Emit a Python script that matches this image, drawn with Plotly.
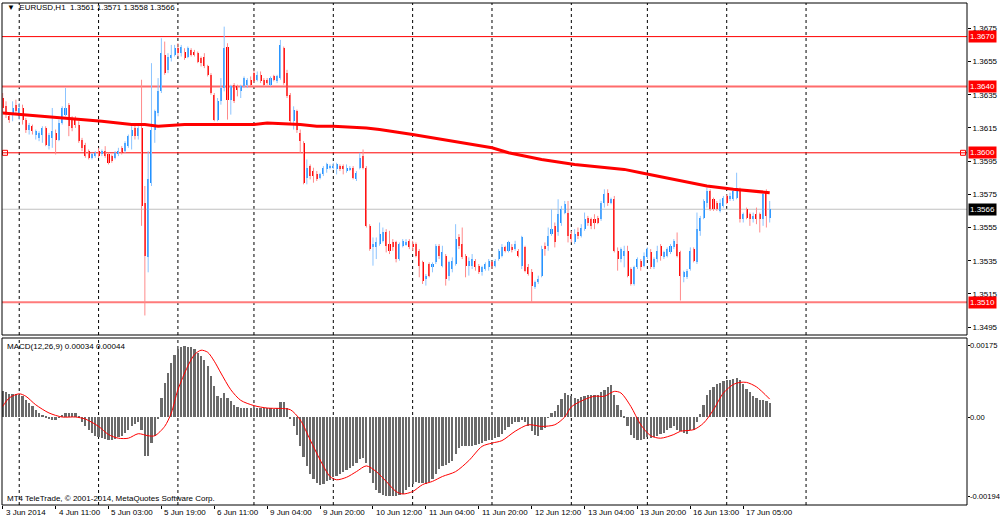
import plotly.graph_objects as go

# EURUSD H1, one bar per hour from 3 Jun 2014 19:00 to 17 Jun 2014 12:00 (x = bar number)
open_ = [1.3633, 1.3628, 1.3622, 1.3624, 1.3629, 1.3622, 1.3627, 1.3620, 1.3614, 1.3616,
         1.3611, 1.3609, 1.3611, 1.3615, 1.3604, 1.3609, 1.3612, 1.3608, 1.3618, 1.3623,
         1.3629, 1.3620, 1.3621, 1.3617, 1.3608, 1.3605, 1.3601, 1.3597, 1.3598, 1.3601,
         1.3599, 1.3601, 1.3599, 1.3598, 1.3597, 1.3599, 1.3603, 1.3601, 1.3604, 1.3610,
         1.3615, 1.3610, 1.3615, 1.3570, 1.3537, 1.3582, 1.3614, 1.3624, 1.3637, 1.3659,
         1.3650, 1.3657, 1.3659, 1.3663, 1.3660, 1.3661, 1.3658, 1.3662, 1.3661, 1.3660,
         1.3657, 1.3658, 1.3652, 1.3647, 1.3635, 1.3620, 1.3631, 1.3639, 1.3664, 1.3632,
         1.3641, 1.3640, 1.3637, 1.3640, 1.3641, 1.3644, 1.3648, 1.3644, 1.3647, 1.3644,
         1.3644, 1.3641, 1.3646, 1.3643, 1.3645, 1.3663, 1.3648, 1.3635, 1.3619, 1.3625,
         1.3612, 1.3606, 1.3585, 1.3592, 1.3589, 1.3587, 1.3585, 1.3587, 1.3590, 1.3591,
         1.3591, 1.3590, 1.3592, 1.3592, 1.3589, 1.3590, 1.3591, 1.3584, 1.3591, 1.3598,
         1.3591, 1.3556, 1.3543, 1.3543, 1.3545, 1.3547, 1.3552, 1.3545, 1.3546, 1.3546,
         1.3536, 1.3544, 1.3545, 1.3547, 1.3545, 1.3545, 1.3541, 1.3534, 1.3524, 1.3533,
         1.3531, 1.3534, 1.3544, 1.3532, 1.3538, 1.3526, 1.3530, 1.3533, 1.3549, 1.3545,
         1.3538, 1.3532, 1.3532, 1.3535, 1.3532, 1.3528, 1.3530, 1.3531, 1.3534, 1.3532,
         1.3536, 1.3538, 1.3543, 1.3541, 1.3543, 1.3542, 1.3541, 1.3532, 1.3543, 1.3531,
         1.3528, 1.3519, 1.3522, 1.3526, 1.3544, 1.3544, 1.3551, 1.3556, 1.3552, 1.3558,
         1.3564, 1.3564, 1.3551, 1.3546, 1.3552, 1.3550, 1.3554, 1.3561, 1.3560, 1.3560,
         1.3561, 1.3560, 1.3570, 1.3576, 1.3570, 1.3572, 1.3541, 1.3536, 1.3538, 1.3541,
         1.3530, 1.3521, 1.3531, 1.3535, 1.3532, 1.3537, 1.3540, 1.3531, 1.3536, 1.3544,
         1.3537, 1.3538, 1.3540, 1.3543, 1.3545, 1.3540, 1.3525, 1.3525, 1.3530, 1.3542,
         1.3534, 1.3553, 1.3561, 1.3570, 1.3577, 1.3572, 1.3570, 1.3565, 1.3568, 1.3574,
         1.3572, 1.3572, 1.3573, 1.3578, 1.3560, 1.3566, 1.3563, 1.3560, 1.3563, 1.3563,
         1.3560, 1.3576, 1.3561]
high = [1.3636, 1.3631, 1.3624, 1.3631, 1.3632, 1.3630, 1.3629, 1.3621, 1.3618, 1.3617,
        1.3614, 1.3613, 1.3616, 1.3616, 1.3612, 1.3627, 1.3614, 1.3620, 1.3628, 1.3639,
        1.3630, 1.3622, 1.3622, 1.3619, 1.3609, 1.3606, 1.3602, 1.3600, 1.3601, 1.3603,
        1.3602, 1.3604, 1.3600, 1.3599, 1.3601, 1.3603, 1.3604, 1.3607, 1.3611, 1.3616,
        1.3617, 1.3616, 1.3644, 1.3580, 1.3601, 1.3654, 1.3626, 1.3645, 1.3669, 1.3667,
        1.3660, 1.3665, 1.3665, 1.3666, 1.3665, 1.3663, 1.3664, 1.3663, 1.3662, 1.3661,
        1.3658, 1.3660, 1.3653, 1.3648, 1.3636, 1.3633, 1.3645, 1.3676, 1.3666, 1.3641,
        1.3642, 1.3641, 1.3641, 1.3646, 1.3645, 1.3646, 1.3650, 1.3649, 1.3649, 1.3645,
        1.3645, 1.3646, 1.3647, 1.3647, 1.3668, 1.3664, 1.3650, 1.3636, 1.3628, 1.3626,
        1.3614, 1.3607, 1.3596, 1.3593, 1.3591, 1.3589, 1.3588, 1.3592, 1.3594, 1.3593,
        1.3594, 1.3594, 1.3593, 1.3593, 1.3593, 1.3592, 1.3592, 1.3589, 1.3600, 1.3602,
        1.3592, 1.3557, 1.3549, 1.3549, 1.3558, 1.3555, 1.3554, 1.3553, 1.3548, 1.3547,
        1.3546, 1.3548, 1.3548, 1.3548, 1.3547, 1.3546, 1.3542, 1.3535, 1.3527, 1.3534,
        1.3534, 1.3545, 1.3545, 1.3544, 1.3539, 1.3535, 1.3537, 1.3557, 1.3551, 1.3555,
        1.3539, 1.3537, 1.3539, 1.3536, 1.3533, 1.3532, 1.3534, 1.3536, 1.3535, 1.3536,
        1.3542, 1.3545, 1.3544, 1.3547, 1.3545, 1.3547, 1.3542, 1.3550, 1.3544, 1.3533,
        1.3530, 1.3523, 1.3526, 1.3544, 1.3546, 1.3555, 1.3566, 1.3558, 1.3572, 1.3568,
        1.3571, 1.3571, 1.3553, 1.3554, 1.3555, 1.3557, 1.3564, 1.3562, 1.3561, 1.3563,
        1.3562, 1.3571, 1.3578, 1.3578, 1.3573, 1.3574, 1.3543, 1.3543, 1.3544, 1.3544,
        1.3531, 1.3532, 1.3537, 1.3536, 1.3540, 1.3543, 1.3542, 1.3537, 1.3544, 1.3545,
        1.3541, 1.3543, 1.3545, 1.3548, 1.3552, 1.3541, 1.3529, 1.3530, 1.3543, 1.3543,
        1.3564, 1.3562, 1.3572, 1.3579, 1.3578, 1.3573, 1.3571, 1.3572, 1.3574, 1.3575,
        1.3576, 1.3578, 1.3588, 1.3579, 1.3564, 1.3567, 1.3564, 1.3564, 1.3567, 1.3564,
        1.3577, 1.3578, 1.3571]
low = [1.3624, 1.3621, 1.3618, 1.3619, 1.3623, 1.3620, 1.3617, 1.3612, 1.3611, 1.3611,
       1.3608, 1.3607, 1.3606, 1.3604, 1.3602, 1.3603, 1.3599, 1.3607, 1.3617, 1.3622,
       1.3610, 1.3613, 1.3615, 1.3606, 1.3601, 1.3597, 1.3596, 1.3596, 1.3597, 1.3597,
       1.3598, 1.3597, 1.3593, 1.3594, 1.3596, 1.3598, 1.3599, 1.3600, 1.3603, 1.3602,
       1.3608, 1.3608, 1.3556, 1.3502, 1.3528, 1.3580, 1.3606, 1.3622, 1.3636, 1.3647,
       1.3648, 1.3655, 1.3658, 1.3658, 1.3658, 1.3656, 1.3657, 1.3658, 1.3658, 1.3654,
       1.3652, 1.3651, 1.3646, 1.3635, 1.3619, 1.3619, 1.3629, 1.3637, 1.3620, 1.3623,
       1.3630, 1.3634, 1.3633, 1.3639, 1.3639, 1.3640, 1.3642, 1.3643, 1.3642, 1.3640,
       1.3641, 1.3640, 1.3643, 1.3642, 1.3644, 1.3641, 1.3633, 1.3618, 1.3614, 1.3612,
       1.3600, 1.3581, 1.3581, 1.3584, 1.3582, 1.3583, 1.3584, 1.3586, 1.3588, 1.3590,
       1.3590, 1.3587, 1.3589, 1.3587, 1.3588, 1.3589, 1.3584, 1.3583, 1.3590, 1.3590,
       1.3555, 1.3541, 1.3532, 1.3536, 1.3544, 1.3546, 1.3540, 1.3539, 1.3541, 1.3534,
       1.3535, 1.3543, 1.3544, 1.3542, 1.3541, 1.3537, 1.3525, 1.3521, 1.3520, 1.3525,
       1.3528, 1.3533, 1.3536, 1.3531, 1.3520, 1.3523, 1.3528, 1.3532, 1.3542, 1.3536,
       1.3525, 1.3526, 1.3530, 1.3529, 1.3527, 1.3526, 1.3529, 1.3529, 1.3530, 1.3531,
       1.3535, 1.3537, 1.3540, 1.3540, 1.3540, 1.3541, 1.3537, 1.3530, 1.3528, 1.3526,
       1.3510, 1.3518, 1.3521, 1.3525, 1.3538, 1.3541, 1.3550, 1.3543, 1.3550, 1.3556,
       1.3563, 1.3546, 1.3546, 1.3545, 1.3548, 1.3549, 1.3553, 1.3556, 1.3554, 1.3554,
       1.3557, 1.3559, 1.3567, 1.3568, 1.3569, 1.3540, 1.3529, 1.3534, 1.3531, 1.3525,
       1.3520, 1.3520, 1.3530, 1.3529, 1.3531, 1.3536, 1.3530, 1.3530, 1.3534, 1.3535,
       1.3536, 1.3537, 1.3539, 1.3542, 1.3537, 1.3511, 1.3522, 1.3524, 1.3529, 1.3534,
       1.3533, 1.3550, 1.3560, 1.3567, 1.3565, 1.3565, 1.3565, 1.3564, 1.3567, 1.3569,
       1.3571, 1.3571, 1.3572, 1.3558, 1.3558, 1.3560, 1.3556, 1.3558, 1.3557, 1.3552,
       1.3556, 1.3555, 1.3558]
close = [1.3627, 1.3624, 1.3620, 1.3627, 1.3625, 1.3627, 1.3620, 1.3614, 1.3617, 1.3613,
         1.3613, 1.3612, 1.3615, 1.3605, 1.3611, 1.3613, 1.3608, 1.3618, 1.3627, 1.3627,
         1.3616, 1.3615, 1.3617, 1.3607, 1.3603, 1.3598, 1.3597, 1.3599, 1.3600, 1.3598,
         1.3601, 1.3598, 1.3594, 1.3595, 1.3600, 1.3601, 1.3600, 1.3606, 1.3610, 1.3614,
         1.3610, 1.3615, 1.3568, 1.3538, 1.3584, 1.3614, 1.3625, 1.3637, 1.3660, 1.3648,
         1.3658, 1.3659, 1.3663, 1.3660, 1.3664, 1.3657, 1.3663, 1.3659, 1.3659, 1.3655,
         1.3654, 1.3652, 1.3647, 1.3636, 1.3620, 1.3631, 1.3639, 1.3663, 1.3632, 1.3640,
         1.3631, 1.3638, 1.3640, 1.3645, 1.3644, 1.3641, 1.3643, 1.3647, 1.3643, 1.3641,
         1.3642, 1.3645, 1.3644, 1.3646, 1.3665, 1.3642, 1.3634, 1.3619, 1.3626, 1.3614,
         1.3607, 1.3582, 1.3591, 1.3586, 1.3586, 1.3584, 1.3587, 1.3591, 1.3593, 1.3592,
         1.3592, 1.3593, 1.3590, 1.3590, 1.3591, 1.3591, 1.3585, 1.3588, 1.3597, 1.3591,
         1.3556, 1.3542, 1.3545, 1.3546, 1.3551, 1.3552, 1.3544, 1.3541, 1.3543, 1.3536,
         1.3545, 1.3547, 1.3546, 1.3543, 1.3543, 1.3538, 1.3532, 1.3523, 1.3526, 1.3526,
         1.3533, 1.3544, 1.3538, 1.3540, 1.3524, 1.3534, 1.3535, 1.3548, 1.3544, 1.3537,
         1.3532, 1.3535, 1.3536, 1.3531, 1.3528, 1.3531, 1.3533, 1.3535, 1.3532, 1.3535,
         1.3541, 1.3543, 1.3541, 1.3546, 1.3542, 1.3545, 1.3538, 1.3549, 1.3529, 1.3527,
         1.3520, 1.3522, 1.3524, 1.3542, 1.3542, 1.3550, 1.3554, 1.3546, 1.3563, 1.3566,
         1.3569, 1.3550, 1.3548, 1.3551, 1.3550, 1.3555, 1.3560, 1.3558, 1.3556, 1.3558,
         1.3558, 1.3570, 1.3575, 1.3570, 1.3572, 1.3541, 1.3536, 1.3542, 1.3541, 1.3526,
         1.3521, 1.3531, 1.3536, 1.3531, 1.3538, 1.3542, 1.3531, 1.3536, 1.3541, 1.3538,
         1.3540, 1.3542, 1.3544, 1.3547, 1.3538, 1.3526, 1.3528, 1.3529, 1.3541, 1.3535,
         1.3554, 1.3561, 1.3571, 1.3577, 1.3566, 1.3566, 1.3566, 1.3570, 1.3573, 1.3570,
         1.3574, 1.3577, 1.3579, 1.3560, 1.3563, 1.3561, 1.3560, 1.3562, 1.3560, 1.3560,
         1.3575, 1.3562, 1.3566]

# moving average read at a few bars
ma_idx = [0, 6, 12, 18, 24, 30, 39, 43, 47, 55, 64, 76, 80, 90, 95, 100, 110, 114, 124, 133,
          143, 148, 153, 163, 173, 183, 188, 193, 203, 213, 221, 232]
ma_val = [1.3624, 1.3623, 1.3622, 1.3621, 1.3620, 1.3619, 1.3617, 1.3617, 1.3616, 1.3617,
          1.3617, 1.3617, 1.3618, 1.3617, 1.3616, 1.3616, 1.3615, 1.3614, 1.3611, 1.3608,
          1.3605, 1.3603, 1.3600, 1.3596, 1.3593, 1.3591, 1.3590, 1.3588, 1.3584, 1.3580,
          1.3578, 1.3576]

# MACD(12,26,9) main histogram, one value per bar
macd_hist = [0.00065, 0.00062, 0.00057, 0.00057, 0.00057, 0.00053, 0.00051, 0.00041, 0.00034, 0.00026,
             0.00018, 0.00010, 0.00006, 0.00001, -0.00003, -0.00007, -0.00007, -0.00002, 0.00005, 0.00011,
             0.00011, 0.00011, 0.00010, 0.00003, -0.00011, -0.00023, -0.00031, -0.00039, -0.00046, -0.00049,
             -0.00052, -0.00053, -0.00056, -0.00057, -0.00054, -0.00049, -0.00046, -0.00038, -0.00031, -0.00023,
             -0.00017, -0.00013, -0.00031, -0.00095, -0.00095, -0.00064, -0.00046, -0.00005, 0.00047, 0.00084,
             0.00108, 0.00133, 0.00153, 0.00167, 0.00171, 0.00175, 0.00172, 0.00171, 0.00166, 0.00157,
             0.00149, 0.00139, 0.00125, 0.00100, 0.00075, 0.00051, 0.00047, 0.00059, 0.00047, 0.00039,
             0.00030, 0.00024, 0.00021, 0.00021, 0.00021, 0.00021, 0.00021, 0.00023, 0.00022, 0.00021,
             0.00021, 0.00021, 0.00020, 0.00021, 0.00036, 0.00036, 0.00021, -0.00005, -0.00023, -0.00043,
             -0.00072, -0.00097, -0.00121, -0.00139, -0.00152, -0.00162, -0.00166, -0.00164, -0.00158, -0.00154,
             -0.00148, -0.00144, -0.00139, -0.00136, -0.00130, -0.00125, -0.00121, -0.00113, -0.00103, -0.00101,
             -0.00113, -0.00138, -0.00162, -0.00179, -0.00187, -0.00191, -0.00193, -0.00194, -0.00194, -0.00193,
             -0.00192, -0.00189, -0.00180, -0.00172, -0.00164, -0.00159, -0.00161, -0.00162, -0.00164, -0.00159,
             -0.00151, -0.00139, -0.00128, -0.00121, -0.00117, -0.00113, -0.00107, -0.00090, -0.00077, -0.00072,
             -0.00071, -0.00071, -0.00070, -0.00068, -0.00067, -0.00064, -0.00060, -0.00057, -0.00056, -0.00052,
             -0.00048, -0.00041, -0.00033, -0.00025, -0.00016, -0.00013, -0.00011, -0.00007, -0.00011, -0.00023,
             -0.00035, -0.00043, -0.00046, -0.00031, -0.00027, -0.00002, 0.00011, 0.00016, 0.00030, 0.00045,
             0.00059, 0.00055, 0.00051, 0.00047, 0.00045, 0.00048, 0.00051, 0.00053, 0.00054, 0.00054,
             0.00055, 0.00061, 0.00067, 0.00074, 0.00078, 0.00055, 0.00030, 0.00018, 0.00003, -0.00021,
             -0.00043, -0.00052, -0.00056, -0.00057, -0.00054, -0.00048, -0.00052, -0.00049, -0.00046, -0.00042,
             -0.00038, -0.00033, -0.00027, -0.00023, -0.00031, -0.00035, -0.00039, -0.00041, -0.00033, -0.00031,
             -0.00013, 0.00008, 0.00030, 0.00055, 0.00067, 0.00073, 0.00080, 0.00084, 0.00088, 0.00090,
             0.00092, 0.00093, 0.00096, 0.00090, 0.00080, 0.00069, 0.00061, 0.00052, 0.00047, 0.00043,
             0.00043, 0.00039, 0.00034]

# MACD signal line read at a few bars
sig_idx = [0, 2, 5, 7, 10, 14, 18, 22, 25, 29, 32, 35, 38, 41, 44, 46, 49, 51, 53, 56,
           58, 60, 62, 64, 66, 69, 72, 76, 80, 84, 87, 90, 93, 96, 99, 101, 104, 107, 110, 113,
           116, 119, 121, 124, 127, 130, 133, 137, 141, 145, 148, 151, 155, 159, 163, 167, 170, 172, 176, 179,
           182, 185, 187, 190, 193, 196, 199, 203, 205, 209, 212, 215, 218, 221, 223, 225, 228, 232]
sig_val = [0.00026, 0.00047, 0.00057, 0.00051, 0.00030, 0.00010, 0.00000, 0.00000, -0.00005, -0.00023,
           -0.00043, -0.00052, -0.00052, -0.00041, -0.00046, -0.00046, -0.00023, 0.00010, 0.00067, 0.00125,
           0.00153, 0.00164, 0.00159, 0.00137, 0.00108, 0.00067, 0.00041, 0.00028, 0.00022, 0.00021,
           0.00018, -0.00007, -0.00056, -0.00105, -0.00146, -0.00154, -0.00148, -0.00134, -0.00120, -0.00134,
           -0.00158, -0.00183, -0.00189, -0.00183, -0.00166, -0.00158, -0.00146, -0.00134, -0.00107, -0.00072,
           -0.00064, -0.00058, -0.00035, -0.00019, -0.00023, -0.00019, 0.00000, 0.00025, 0.00043, 0.00051,
           0.00051, 0.00063, 0.00059, 0.00026, -0.00019, -0.00046, -0.00052, -0.00043, -0.00035, -0.00031,
           -0.00015, 0.00018, 0.00059, 0.00080, 0.00085, 0.00085, 0.00074, 0.00044]

time_idx = [0, 16, 32, 48, 64, 80, 96, 112, 128, 144, 160, 176, 192, 208, 224]
time_txt = ["3 Jun 2014", "4 Jun 11:00", "5 Jun 03:00", "5 Jun 19:00", "6 Jun 11:00",
            "9 Jun 04:00", "9 Jun 20:00", "10 Jun 12:00", "11 Jun 04:00", "11 Jun 20:00",
            "12 Jun 12:00", "13 Jun 04:00", "13 Jun 20:00", "16 Jun 13:00", "17 Jun 05:00"]
day_idx = [5, 29, 53, 76, 100, 124, 148, 172, 195, 219, 243]

price_ticks = [1.3675, 1.3655, 1.3635, 1.3615, 1.3595, 1.3575, 1.3555, 1.3535, 1.3515, 1.3495]
levels = [1.3670, 1.3640, 1.3600, 1.3510]
last_price = 1.3566
macd_ticks = [0.00175, 0.0, -0.00194]
macd_ticktext = ["0.00175", "0.00", "-0.00194"]

FONT = "Liberation Sans, Arial, sans-serif"
FS = 8
BULL, BEAR = "#1e90ff", "#ff0000"
BULL_WICK, BEAR_WICK = "#8cc4ff", "#ff8a8a"

# pixel layout of the MT4 window
W, H = 1000, 520
L, R, T, B = 2, 33, 3, 15
BAR_PX, BAR0_PX = 3.306, 2.7
x_lo = (L - BAR0_PX) / BAR_PX
x_hi = (W - R - BAR0_PX) / BAR_PX
plot_h = H - T - B
main_dom = [(H - B - 335) / plot_h, 1.0]
macd_dom = [0.0, (H - B - 338) / plot_h]


def paper(px, py):
    return (px - L) / (W - L - R), (H - B - py) / plot_h


fig = go.Figure()

# candles: wicks then bodies
for is_bull, body_col, wick_col in [(True, BULL, BULL_WICK), (False, BEAR, BEAR_WICK)]:
    wx, wy, bx, bbase, bh = [], [], [], [], []
    for i, (o, h, l, c) in enumerate(zip(open_, high, low, close)):
        if (c >= o) != is_bull:
            continue
        wx += [i, i, None]
        wy += [l, h, None]
        bx.append(i)
        bbase.append(min(o, c))
        bh.append(max(abs(c - o), 0.00002))
    fig.add_trace(go.Scatter(x=wx, y=wy, mode="lines", line=dict(color=wick_col, width=1),
                             hoverinfo="skip", xaxis="x", yaxis="y"))
    fig.add_trace(go.Bar(x=bx, y=bh, base=bbase, width=0.62, marker_color=body_col,
                         marker_line_width=0, xaxis="x", yaxis="y"))

fig.add_trace(go.Scatter(x=ma_idx, y=ma_val, mode="lines", line=dict(color="#ff0000", width=3),
                         xaxis="x", yaxis="y"))

# little squares at the ends of the 1.3600 line
fig.add_trace(go.Scatter(x=[x_lo + 3 / BAR_PX, x_hi - 4 / BAR_PX], y=[levels[2], levels[2]],
                         mode="markers", marker=dict(symbol="square-open", size=5, color="#ff0000",
                                                     line=dict(width=1)),
                         xaxis="x", yaxis="y", cliponaxis=False))

fig.add_trace(go.Bar(x=list(range(len(macd_hist))), y=macd_hist, width=0.68,
                     marker_color="#6a6a6a", marker_line_width=0, xaxis="x2", yaxis="y2"))
fig.add_trace(go.Scatter(x=sig_idx, y=sig_val, mode="lines",
                         line=dict(color="#ff0000", width=1, shape="spline", smoothing=0.8),
                         xaxis="x2", yaxis="y2"))

shapes = []
for d in day_idx:
    for xr, yr in [("x", "y domain"), ("x2", "y2 domain")]:
        shapes.append(dict(type="line", xref=xr, yref=yr, x0=d, x1=d, y0=0, y1=1,
                           line=dict(color="black", width=1, dash="dot"), layer="below"))
level_style = {1.3670: ("#ff0000", 1), 1.3640: ("#ff6b6b", 2), 1.3600: ("#ff0000", 1),
               1.3510: ("#ff7b7b", 2)}
for lv in levels:
    col, w = level_style[lv]
    shapes.append(dict(type="line", xref="x domain", yref="y", x0=0, x1=1, y0=lv, y1=lv,
                       line=dict(color=col, width=w), layer="below"))
shapes.append(dict(type="line", xref="x domain", yref="y", x0=0, x1=1, y0=last_price,
                   y1=last_price, line=dict(color="#c0c0c0", width=1), layer="below"))
for xr, yr in [("x domain", "y domain"), ("x2 domain", "y2 domain")]:
    shapes.append(dict(type="rect", xref=xr, yref=yr, x0=0, x1=1, y0=0, y1=1,
                       line=dict(color="black", width=1), fillcolor="rgba(0,0,0,0)", layer="above"))

ann = []
for lv in levels:
    ann.append(dict(xref="x domain", yref="y", x=1, y=lv, xanchor="left", yanchor="middle",
                    xshift=1, text=f"{lv:.4f}", showarrow=False, bgcolor="#ff0000", borderpad=1,
                    font=dict(family=FONT, size=FS, color="white")))
ann.append(dict(xref="x domain", yref="y", x=1, y=last_price, xanchor="left", yanchor="middle",
                xshift=1, text=f"{last_price:.4f}", showarrow=False, bgcolor="black", borderpad=1,
                font=dict(family=FONT, size=FS, color="white")))
# MACD scale labels sit tight against the frame, as MT4 does
for v, t in zip(macd_ticks, macd_ticktext):
    ann.append(dict(xref="x2 domain", yref="y2", x=1, y=v, xanchor="left", yanchor="middle",
                    xshift=2, text=t, showarrow=False, borderpad=0,
                    font=dict(family=FONT, size=7.6, color="black")))
for i, t in zip(time_idx, time_txt):
    ann.append(dict(xref="x2", yref="y2 domain", x=i, y=0, xanchor="left", yanchor="top",
                    xshift=1, yshift=-1, text=t, showarrow=False,
                    font=dict(family=FONT, size=FS, color="black")))
for txt, px, py in [("▼  EURUSD,H1  1.3561 1.3571 1.3558 1.3566", 5, 8),
                    ("MACD(12,26,9) 0.00034 0.00044", 5, 346),
                    ("MT4 TeleTrade, © 2001-2014, MetaQuotes Software Corp.", 5, 498)]:
    ax, ay = paper(px, py)
    ann.append(dict(xref="paper", yref="paper", x=ax, y=ay, xanchor="left", yanchor="middle",
                    text=txt, showarrow=False, font=dict(family=FONT, size=FS, color="black")))

tick_font = dict(family=FONT, size=FS, color="black")
fig.update_layout(
    width=W, height=H, margin=dict(l=L, r=R, t=T, b=B, autoexpand=False),
    paper_bgcolor="white", plot_bgcolor="white", showlegend=False, barmode="overlay",
    bargap=0, shapes=shapes, annotations=ann,
    xaxis=dict(domain=[0, 1], range=[x_lo, x_hi], anchor="y", showgrid=False, zeroline=False,
               showticklabels=False, ticks="", automargin=False),
    yaxis=dict(domain=main_dom, range=[1.349024, 1.369024], side="right", anchor="x",
               tickvals=price_ticks, ticktext=[f"{v:.4f}" for v in price_ticks],
               ticks="outside", ticklen=3, tickcolor="black", showgrid=False, zeroline=False,
               tickfont=tick_font, automargin=False),
    xaxis2=dict(domain=[0, 1], range=[x_lo, x_hi], anchor="y2", matches="x",
                tickvals=time_idx, ticks="outside", ticklen=3, tickcolor="black",
                showticklabels=False, showgrid=False, zeroline=False, automargin=False),
    yaxis2=dict(domain=macd_dom, range=[-0.00216, 0.00194], side="right", anchor="x2",
                tickvals=macd_ticks, ticks="outside", ticklen=2, showticklabels=False,
                tickcolor="black", showgrid=False, zeroline=False, automargin=False),
)

# the page's default 8px body margin would shift the 1000x520 figure off the window
fig.write_html("out.html", config={"displayModeBar": False},
               post_script="document.body.style.margin='0px';")
